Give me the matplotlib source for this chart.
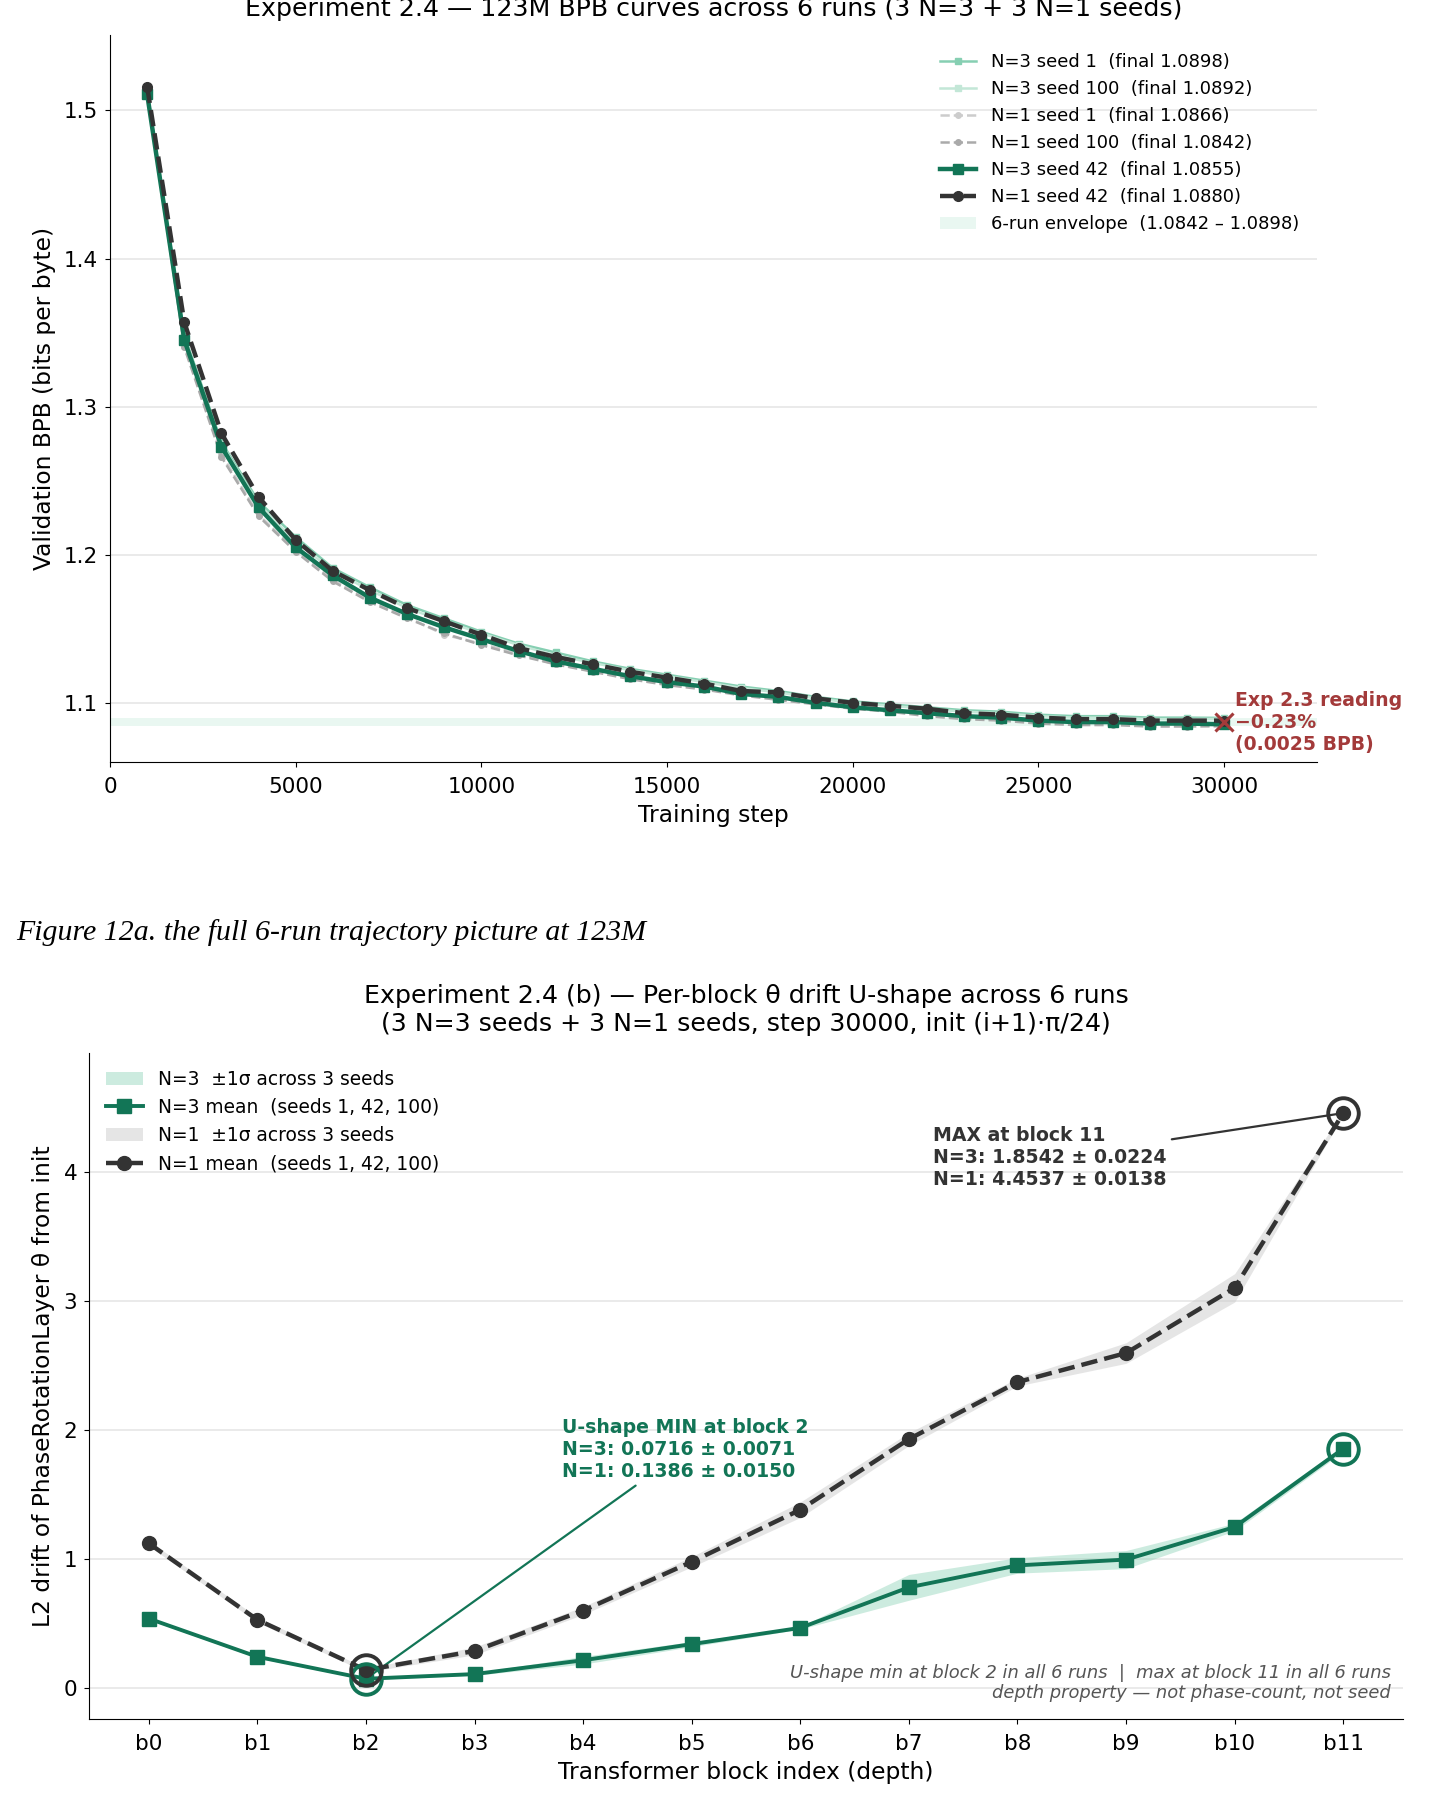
import matplotlib
matplotlib.use("Agg")
import matplotlib.pyplot as plt
import numpy as np

# ---- Panel (a): BPB trajectories ----
steps = list(range(1000, 31000, 1000))

n3_s1 = [1.513, 1.348, 1.276, 1.236, 1.212, 1.191, 1.178, 1.166, 1.157, 1.148,
         1.140, 1.134, 1.128, 1.123, 1.119, 1.115, 1.111, 1.108, 1.104, 1.101,
         1.099, 1.097, 1.095, 1.094, 1.092, 1.091, 1.091, 1.090, 1.090, 1.0898]
n3_s100 = [1.512, 1.347, 1.275, 1.234, 1.209, 1.189, 1.176, 1.164, 1.155, 1.147,
           1.139, 1.132, 1.127, 1.122, 1.118, 1.114, 1.110, 1.107, 1.103, 1.100,
           1.098, 1.096, 1.094, 1.093, 1.091, 1.090, 1.090, 1.089, 1.089, 1.0892]
n1_s1 = [1.514, 1.342, 1.268, 1.227, 1.203, 1.183, 1.169, 1.158, 1.146, 1.140,
         1.133, 1.126, 1.122, 1.117, 1.113, 1.110, 1.106, 1.103, 1.100, 1.097,
         1.095, 1.092, 1.090, 1.089, 1.087, 1.087, 1.087, 1.086, 1.086, 1.0866]
n1_s100 = [1.513, 1.340, 1.266, 1.226, 1.202, 1.182, 1.168, 1.157, 1.147, 1.139,
           1.132, 1.126, 1.121, 1.116, 1.112, 1.109, 1.105, 1.102, 1.099, 1.096,
           1.094, 1.091, 1.089, 1.088, 1.086, 1.085, 1.085, 1.084, 1.084, 1.0842]
n3_s42 = [1.511, 1.345, 1.273, 1.232, 1.205, 1.186, 1.171, 1.160, 1.151, 1.143,
          1.135, 1.128, 1.123, 1.118, 1.114, 1.111, 1.106, 1.104, 1.100, 1.097,
          1.095, 1.093, 1.091, 1.090, 1.088, 1.087, 1.087, 1.086, 1.086, 1.0855]
n1_s42 = [1.516, 1.357, 1.282, 1.239, 1.210, 1.189, 1.176, 1.164, 1.155, 1.146,
          1.137, 1.131, 1.126, 1.121, 1.117, 1.113, 1.108, 1.107, 1.103, 1.100,
          1.098, 1.096, 1.093, 1.092, 1.090, 1.089, 1.089, 1.088, 1.088, 1.0880]

env_lo, env_hi = 1.0842, 1.0898

# ---- Panel (b): per-block theta drift ----
blocks = ["b0", "b1", "b2", "b3", "b4", "b5", "b6", "b7", "b8", "b9", "b10", "b11"]
n3_mean = [0.538, 0.242, 0.0716, 0.108, 0.215, 0.340, 0.466, 0.780, 0.950, 0.995, 1.247, 1.8542]
n3_std = [0.010, 0.010, 0.0071, 0.010, 0.030, 0.020, 0.010, 0.100, 0.060, 0.070, 0.030, 0.0224]
n1_mean = [1.121, 0.529, 0.1386, 0.287, 0.600, 0.978, 1.381, 1.928, 2.370, 2.595, 3.100, 4.4537]
n1_std = [0.020, 0.020, 0.0150, 0.030, 0.030, 0.040, 0.060, 0.050, 0.030, 0.080, 0.110, 0.0138]

GREEN = "#127556"
DARK = "#333333"
RED = "#a33a3a"

plt.rcParams["font.family"] = ["DejaVu Sans"]

fig = plt.figure(figsize=(14.29, 18.11), dpi=100)

# ---------------- top panel ----------------
ax1 = fig.add_axes([0.077, 0.5792, 0.8446, 0.4015])
ax1.axhspan(env_lo, env_hi, color="#cfeee2", alpha=0.45, lw=0, zorder=1,
            label=f"6-run envelope  ({env_lo:.4f} – {env_hi:.4f})")
ax1.plot(steps, n3_s1, color="#86cfb2", lw=1.8, marker="s", ms=4, zorder=3,
         label="N=3 seed 1  (final 1.0898)")
ax1.plot(steps, n3_s100, color="#c3e7d7", lw=1.8, marker="s", ms=4, zorder=3,
         label="N=3 seed 100  (final 1.0892)")
ax1.plot(steps, n1_s1, color="#cccccc", lw=1.8, ls="--", marker="o", ms=4, zorder=3,
         label="N=1 seed 1  (final 1.0866)")
ax1.plot(steps, n1_s100, color="#aaaaaa", lw=1.8, ls="--", marker="o", ms=4, zorder=3,
         label="N=1 seed 100  (final 1.0842)")
ax1.plot(steps, n3_s42, color=GREEN, lw=3.2, marker="s", ms=7, zorder=4,
         label="N=3 seed 42  (final 1.0855)")
ax1.plot(steps, n1_s42, color=DARK, lw=3.2, ls="--", marker="o", ms=7, zorder=5,
         label="N=1 seed 42  (final 1.0880)")

ax1.plot([steps[-1]], [1.087], marker="x", color=RED, ms=13, mew=2.2, zorder=6)
ax1.text(30300, 1.087, "Exp 2.3 reading\n\u22120.23%\n(0.0025 BPB)", color=RED,
         fontsize=13.6, fontweight="bold", ha="left", va="center", zorder=7)

ax1.set_xlim(0, 32500)
ax1.set_ylim(1.06, 1.551)
ax1.set_xticks(range(0, 30001, 5000))
ax1.set_yticks([1.1, 1.2, 1.3, 1.4, 1.5])
ax1.tick_params(labelsize=15.5)
ax1.tick_params(axis="x", pad=7.5)
ax1.tick_params(axis="y", pad=5)
ax1.set_xlabel("Training step", fontsize=16.8, labelpad=5)
ax1.set_ylabel("Validation BPB (bits per byte)", fontsize=16.8, labelpad=6)
ax1.set_title("Experiment 2.4 — 123M BPB curves across 6 runs (3 N=3 + 3 N=1 seeds)",
              fontsize=18.2, pad=14)
ax1.grid(axis="y", color="#e6e6e6", lw=1.2)
ax1.set_axisbelow(True)
ax1.spines["top"].set_visible(False)
ax1.spines["right"].set_visible(False)

handles, labels = ax1.get_legend_handles_labels()
order = [1, 2, 3, 4, 5, 6, 0]
ax1.legend([handles[i] for i in order], [labels[i] for i in order],
           loc="upper right", fontsize=13, frameon=False, borderaxespad=0.6)

# ---------------- caption ----------------
fig.text(16 / 1429, 1 - 933 / 1811, "Figure 12a. the full 6-run trajectory picture at 123M",
         family="Liberation Serif", style="italic", fontsize=21.5, ha="left", va="center")

# ---------------- bottom panel ----------------
ax2 = fig.add_axes([0.0623, 0.0508, 0.9195, 0.3678])
x = np.arange(len(blocks))
n3m, n3s = np.array(n3_mean), np.array(n3_std)
n1m, n1s = np.array(n1_mean), np.array(n1_std)

ax2.fill_between(x, n3m - n3s, n3m + n3s, color="#8fd3b8", alpha=0.45, lw=0,
                 label="N=3  \u00b11\u03c3 across 3 seeds", zorder=2)
ax2.plot(x, n3m, color=GREEN, lw=2.8, marker="s", ms=10, zorder=4,
         label="N=3 mean  (seeds 1, 42, 100)")
ax2.fill_between(x, n1m - n1s, n1m + n1s, color="#cccccc", alpha=0.5, lw=0,
                 label="N=1  \u00b11\u03c3 across 3 seeds", zorder=2)
ax2.plot(x, n1m, color=DARK, lw=3.2, ls="--", marker="o", ms=10, zorder=5,
         label="N=1 mean  (seeds 1, 42, 100)")

# highlight min / max
for idx in (2, 11):
    ax2.plot(x[idx], n3m[idx], marker="o", ms=22, mfc="none", mec=GREEN, mew=2.8, zorder=6)
    ax2.plot(x[idx], n1m[idx], marker="o", ms=22, mfc="none", mec=DARK, mew=2.8, zorder=6)

ax2.annotate("U-shape MIN at block 2\nN=3: 0.0716 \u00b1 0.0071\nN=1: 0.1386 \u00b1 0.0150",
             xy=(2, n3m[2]), xytext=(3.81, 2.09), ha="left", va="top",
             fontsize=13.6, fontweight="bold", color=GREEN,
             arrowprops=dict(arrowstyle="-", color=GREEN, lw=1.6))
ax2.annotate("MAX at block 11\nN=3: 1.8542 \u00b1 0.0224\nN=1: 4.4537 \u00b1 0.0138",
             xy=(11, n1m[11]), xytext=(7.22, 4.35), ha="left", va="top",
             fontsize=13.6, fontweight="bold", color=DARK,
             arrowprops=dict(arrowstyle="-", color=DARK, lw=1.6))

ax2.text(0.991, 0.025,
         "U-shape min at block 2 in all 6 runs  |  max at block 11 in all 6 runs\n"
         "depth property — not phase-count, not seed",
         transform=ax2.transAxes, ha="right", va="bottom", fontsize=12.9,
         style="italic", color="#555555")

ax2.set_xlim(-0.55, 11.55)
ax2.set_ylim(-0.24, 4.92)
ax2.set_xticks(x)
ax2.set_xticklabels(blocks)
ax2.set_yticks([0, 1, 2, 3, 4])
ax2.tick_params(labelsize=15.5)
ax2.tick_params(axis="x", pad=7.5)
ax2.tick_params(axis="y", pad=5)
ax2.set_xlabel("Transformer block index (depth)", fontsize=16.8, labelpad=5)
ax2.set_ylabel("L2 drift of PhaseRotationLayer \u03b8 from init", fontsize=16.8, labelpad=6)
ax2.set_title("Experiment 2.4 (b) — Per-block \u03b8 drift U-shape across 6 runs\n"
              "(3 N=3 seeds + 3 N=1 seeds, step 30000, init (i+1)\u00b7\u03c0/24)",
              fontsize=18.2, pad=16)
ax2.grid(axis="y", color="#e6e6e6", lw=1.2)
ax2.set_axisbelow(True)
ax2.spines["top"].set_visible(False)
ax2.spines["right"].set_visible(False)
ax2.legend(loc="upper left", fontsize=13.4, frameon=False)

fig.savefig("out.png", dpi=100)
